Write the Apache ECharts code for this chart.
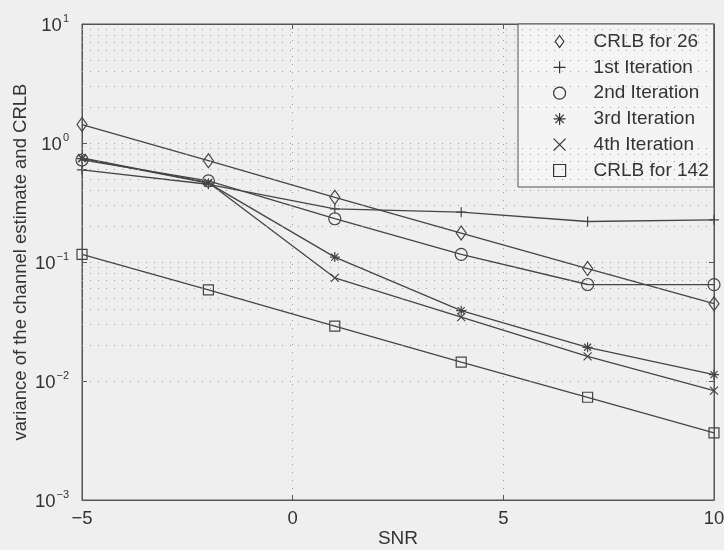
<!DOCTYPE html>
<html><head><meta charset="utf-8">
<script src="https://cdn.jsdelivr.net/npm/echarts@6/dist/echarts.min.js"></script>
<style>html,body{margin:0;padding:0;background:#efefef}#c{width:724px;height:550px}</style>
</head><body><div id="c"></div>
<script>
const snr = [-5, -2, 1, 4, 7, 10];
const crlb26 = [1.43, 0.71, 0.35, 0.175, 0.088, 0.0446];
const iter1 = [0.595, 0.45, 0.28, 0.262, 0.219, 0.226];
const iter2 = [0.72, 0.48, 0.231, 0.116, 0.0647, 0.0645];
const iter3 = [0.74, 0.46, 0.11, 0.039, 0.0192, 0.0113];
const iter4 = [0.75, 0.465, 0.0736, 0.0344, 0.0161, 0.0083];
const crlb142 = [0.116, 0.0583, 0.0289, 0.0144, 0.0073, 0.00367];
const names = ['CRLB for 26', '1st Iteration', '2nd Iteration', '3rd Iteration', '4th Iteration', 'CRLB for 142'];
const xTicks = [-5, 0, 5, 10];
const yTicks = [0.001, 0.01, 0.1, 1, 10];

const minorGrid = [];
for (let d = -3; d <= 0; d++) for (let k = 2; k <= 9; k++) minorGrid.push(k * Math.pow(10, d));

const INK = '#454545';
const symbols = [
  {sym: 'path://M5,0L10,7L5,14L0,7Z', size: [10, 14]},
  {sym: 'path://M5,0L5,10M0,5L10,5', size: 10},
  {sym: 'path://M5,0A5,5 0 1,1 4.99,0Z', size: 12},
  {sym: 'path://M5,0L5,10M0,5L10,5M1.5,1.5L8.5,8.5M8.5,1.5L1.5,8.5', size: 10},
  {sym: 'path://M0,0L10,10M10,0L0,10', size: 8},
  {sym: 'path://M0,0L10,0L10,10L0,10Z', size: 10}
];
const legendIcons = [
  'path://M5,0L10,7L5,14L0,7Z',
  'path://M5,0L5,10M0,5L10,5',
  'path://M5,0A5,5 0 1,1 4.99,0Z',
  'path://M5,0L5,10M0,5L10,5M1.5,1.5L8.5,8.5M8.5,1.5L1.5,8.5',
  'path://M0,0L10,10M10,0L0,10',
  'path://M0,0L10,0L10,10L0,10Z'
];
const allData = [crlb26, iter1, iter2, iter3, iter4, crlb142];

const supMap = v => {
  const e = Math.round(Math.log10(v));
  return '{b|10}{s|' + (e < 0 ? '\u2212' + (-e) : e) + '}';
};

const font = 'Liberation Sans, Arial, sans-serif';
const series = allData.map((d, i) => ({
  name: names[i], type: 'line', xAxisIndex: 0, yAxisIndex: 0,
  data: snr.map((x, j) => [x, d[j]]),
  symbol: symbols[i].sym, symbolSize: symbols[i].size, showAllSymbol: true,
  clip: false,
  lineStyle: {color: INK, width: 1.3},
  itemStyle: {color: 'rgba(0,0,0,0)', borderColor: INK, borderWidth: 1.2},
  emphasis: {disabled: true}, z: 3
}));
series.push({
  type: 'line', data: [], xAxisIndex: 0, yAxisIndex: 0, silent: true,
  markLine: {silent: true, symbol: 'none', label: {show: false}, animation: false,
    lineStyle: {type: [1, 7], color: '#999', width: 1},
    data: minorGrid.map(v => ({yAxis: v}))}
});

const chart = echarts.init(document.getElementById('c'));
chart.setOption({
  animation: false,
  backgroundColor: '#efefef',
  grid: {left: 82, right: 10, top: 24, bottom: 50, outerBoundsMode: 'none', containLabel: false,
    show: true, borderColor: '#555', borderWidth: 1, backgroundColor: 'transparent'},
  legend: {
    orient: 'vertical', left: 518, top: 24,
    padding: [8, 5, 7, 35], itemGap: 6.8, itemWidth: 14, itemHeight: 12,
    backgroundColor: '#f4f4f4', borderColor: '#555', borderWidth: 1, borderRadius: 0,
    textStyle: {fontFamily: font, fontSize: 19, color: '#333', lineHeight: 18, padding: [0, 0, 0, 22]},
    selectedMode: false,
    data: names.map((n, i) => ({name: n, icon: legendIcons[i],
      itemStyle: {color: 'rgba(0,0,0,0)', borderColor: '#333', borderWidth: 1.2}}))
  },
  xAxis: [{
    type: 'value', min: -5, max: 10, interval: 5, position: 'bottom',
    name: 'SNR', nameLocation: 'middle', nameGap: 29, nameMoveOverlap: false,
    nameTextStyle: {fontFamily: font, fontSize: 19, color: '#333'},
    axisLine: {show: true, onZero: false, lineStyle: {color: '#555'}},
    axisTick: {show: true, inside: true, length: 5, lineStyle: {color: '#555'}},
    axisLabel: {fontFamily: font, fontSize: 18.5, color: '#333', margin: 9,
      formatter: v => (v < 0 ? '\u2212' + (-v) : '' + v)},
    splitLine: {show: true, lineStyle: {type: [1, 7], color: '#999'}}
  }, {
    type: 'value', min: -5, max: 10, interval: 5, position: 'top',
    axisLine: {show: true, onZero: false, lineStyle: {color: '#555'}},
    axisTick: {show: true, inside: true, length: 5, lineStyle: {color: '#555'}},
    axisLabel: {show: false}, splitLine: {show: false}
  }],
  yAxis: [{
    type: 'log', logBase: 10, min: 0.001, max: 10, position: 'left',
    name: 'variance of the channel estimate and CRLB', nameLocation: 'middle', nameGap: 52, nameMoveOverlap: false,
    nameTextStyle: {fontFamily: font, fontSize: 18.5, color: '#333'},
    axisLine: {show: true, onZero: false, lineStyle: {color: '#555'}},
    axisTick: {show: true, inside: true, length: 5, lineStyle: {color: '#555'}},
    axisLabel: {margin: 13, formatter: supMap,
      rich: {b: {fontFamily: font, fontSize: 18.5, color: '#333', padding: [4, 0, 0, 0]},
             s: {fontFamily: font, fontSize: 11, color: '#333', padding: [0, 0, 10, 1]}}},
    splitLine: {show: true, lineStyle: {type: [1, 7], color: '#999'}}
  }, {
    type: 'log', logBase: 10, min: 0.001, max: 10, position: 'right',
    axisLine: {show: true, onZero: false, lineStyle: {color: '#555'}},
    axisTick: {show: true, inside: true, length: 5, lineStyle: {color: '#555'}},
    axisLabel: {show: false}, splitLine: {show: false}
  }],
  series: series
});
</script></body></html>
